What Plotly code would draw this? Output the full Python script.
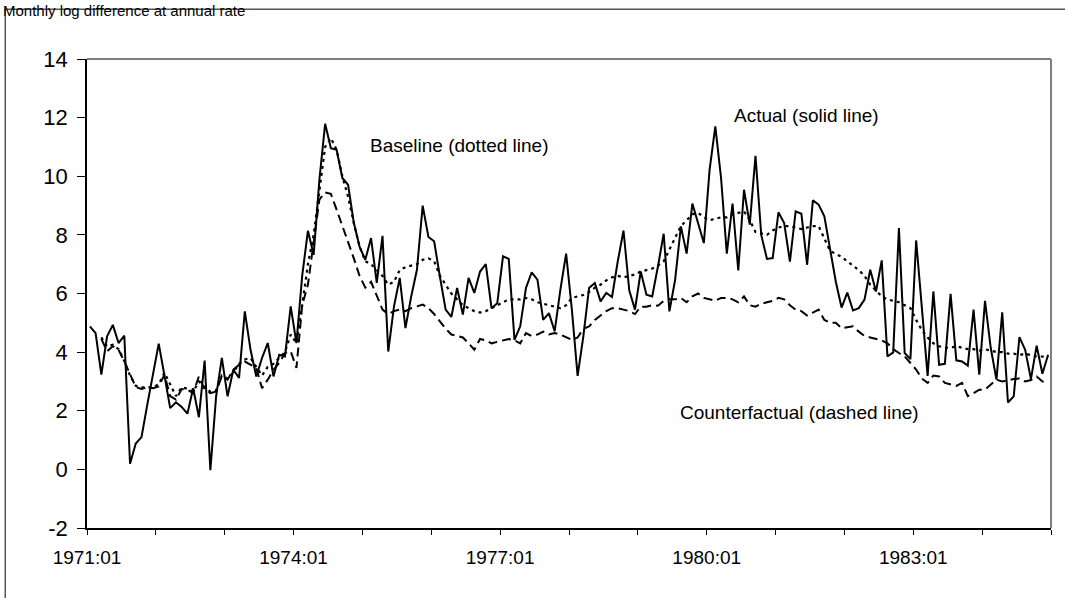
import plotly.graph_objects as go

# Monthly periods 1971:01 .. 1984:12
years = list(range(1971, 1985))
months = [f"{y}:{m:02d}" for y in years for m in range(1, 13)]

# Actual inflation (solid line)
actual = [
    4.88, 4.65, 3.23, 4.54, 4.93, 4.31, 4.56, 0.19, 0.88, 1.10, 2.20, 3.20,
    4.29, 3.20, 2.09, 2.29, 2.13, 1.90, 2.77, 1.78, 3.71, -0.03, 2.49, 3.80,
    2.49, 3.40, 3.12, 5.39, 4.08, 3.17, 3.80, 4.31, 3.17, 3.91, 3.85, 5.56,
    4.31, 6.60, 8.14, 7.32, 9.88, 11.79, 10.96, 10.90, 9.94, 9.71, 8.41, 7.60,
    7.15, 7.89, 6.36, 7.97, 4.02, 5.56, 6.53, 4.82, 5.90, 6.81, 9.00, 7.93,
    7.78, 6.58, 5.45, 5.20, 6.19, 5.28, 6.53, 6.02, 6.75, 7.00, 5.50, 5.67,
    7.27, 7.18, 4.42, 4.88, 6.19, 6.72, 6.47, 5.10, 5.33, 4.71, 6.13, 7.36,
    5.45, 3.19, 4.54, 6.19, 6.36, 5.73, 6.02, 5.88, 7.10, 8.15, 6.11, 5.45,
    6.75, 5.96, 5.90, 6.92, 8.04, 5.39, 6.47, 8.29, 7.36, 9.07, 8.40, 7.72,
    10.22, 11.70, 9.94, 7.36, 9.07, 6.79, 9.54, 8.35, 10.70, 8.00, 7.18, 7.21,
    8.77, 8.40, 7.09, 8.80, 8.72, 6.98, 9.18, 9.03, 8.63, 7.50, 6.40, 5.52,
    6.03, 5.42, 5.50, 5.79, 6.81, 6.07, 7.13, 3.85, 3.99, 8.23, 3.97, 3.76,
    7.81, 5.50, 3.19, 6.07, 3.57, 3.60, 5.99, 3.72, 3.68, 3.54, 5.45, 3.23,
    5.75, 4.14, 3.06, 5.36, 2.28, 2.49, 4.51, 4.08, 3.08, 4.22, 3.26, 3.91,
]

# Baseline simulation (dotted line)
baseline = [
    None, None, 4.50, 4.20, 4.25, 4.10, 3.70, 3.20, 2.85, 2.80, 2.80, 2.80,
    2.90, 3.30, 2.90, 2.50, 2.80, 2.75, 2.65, 3.00, 2.80, 2.65, 2.70, 3.20,
    3.10, 3.30, 3.60, 3.75, 3.80, 3.50, 3.20, 3.50, 3.60, 3.80, 4.00, 4.60,
    4.30, 5.60, 7.00, 8.00, 9.50, 11.00, 11.30, 10.90, 10.00, 9.30, 8.40, 7.60,
    7.10, 7.00, 6.80, 6.60, 6.30, 6.40, 6.80, 6.90, 6.95, 7.00, 7.15, 7.20,
    7.10, 6.60, 6.30, 6.00, 5.80, 5.60, 5.50, 5.40, 5.35, 5.40, 5.50, 5.60,
    5.70, 5.80, 5.80, 5.80, 5.85, 5.80, 5.70, 5.65, 5.60, 5.55, 5.50, 5.60,
    5.85, 5.90, 5.95, 6.05, 6.20, 6.30, 6.45, 6.55, 6.60, 6.55, 6.60, 6.65,
    6.75, 6.80, 6.85, 6.95, 7.10, 7.50, 7.90, 8.30, 8.50, 8.70, 8.75, 8.60,
    8.50, 8.55, 8.60, 8.60, 8.70, 8.75, 8.80, 8.50, 8.10, 8.05, 8.00, 8.15,
    8.25, 8.30, 8.30, 8.25, 8.20, 8.25, 8.30, 8.30, 7.90, 7.45, 7.35, 7.25,
    7.10, 6.95, 6.80, 6.60, 6.30, 6.10, 5.90, 5.80, 5.75, 5.70, 5.60, 5.50,
    5.10, 4.75, 4.50, 4.30, 4.20, 4.15, 4.15, 4.20, 4.15, 4.10, 4.10, 4.05,
    4.10, 4.05, 4.00, 4.00, 3.95, 3.95, 3.90, 3.95, 3.90, 3.85, 3.85, 3.80,
]

# Counterfactual simulation (dashed line)
counterfactual = [
    None, None, 4.45, 4.03, 4.20, 4.08, 3.68, 3.23, 2.81, 2.74, 2.81, 2.77,
    2.83, 3.23, 2.50, 2.38, 2.74, 2.72, 2.60, 3.17, 2.72, 2.60, 2.66, 3.17,
    3.06, 3.40, 3.57, 3.68, 3.57, 3.46, 2.77, 3.06, 3.40, 3.63, 3.97, 4.03,
    3.46, 5.60, 6.30, 7.80, 9.20, 9.45, 9.40, 8.86, 8.30, 7.80, 7.20, 6.60,
    6.20, 6.40, 5.90, 5.45, 5.30, 5.40, 5.45, 5.40, 5.50, 5.55, 5.62, 5.50,
    5.30, 5.05, 4.80, 4.60, 4.55, 4.50, 4.30, 4.08, 4.45, 4.40, 4.30, 4.35,
    4.40, 4.45, 4.40, 4.30, 4.65, 4.55, 4.60, 4.70, 4.60, 4.65, 4.60, 4.50,
    4.42, 4.50, 4.80, 4.88, 5.10, 5.25, 5.40, 5.50, 5.50, 5.45, 5.40, 5.30,
    5.55, 5.55, 5.60, 5.58, 5.75, 5.80, 5.80, 5.85, 5.70, 5.90, 6.00, 5.85,
    5.80, 5.75, 5.85, 5.85, 5.80, 5.70, 5.90, 5.60, 5.55, 5.65, 5.70, 5.75,
    5.85, 5.80, 5.60, 5.45, 5.40, 5.25, 5.35, 5.45, 5.10, 5.00, 5.00, 4.82,
    4.85, 4.88, 4.70, 4.55, 4.50, 4.45, 4.40, 4.30, 4.10, 3.97, 3.85, 3.63,
    3.40, 3.10, 2.95, 3.20, 3.17, 2.95, 2.90, 2.85, 2.95, 2.50, 2.60, 2.72,
    2.72, 2.90, 3.06, 3.00, 3.05, 3.08, 3.10, 3.00, 3.05, 3.17, 3.00, 2.95,
]

y_ticks = list(range(-2, 15, 2))
label_every = 36  # one label every three years, a tick every year

FONT = "Liberation Sans, Arial, Helvetica, sans-serif"
W, H = 1065, 598
L, R, T, B = 87.3, 14, 59.3, 70
pw, ph = W - L - R, H - T - B


def px(xp):
    return (xp - L) / pw


def py(yp):
    return (H - B - yp) / ph


n = len(months)
xpos = [i + 0.5 for i in range(n)]
tickvals = list(range(0, n + 1, 12))
ticktext = [months[v] if (v % label_every == 0 and v < n) else "" for v in tickvals]

fig = go.Figure()
fig.add_trace(go.Scatter(x=xpos, y=counterfactual, mode="lines",
                         line=dict(color="black", width=2, dash="9px,5px"),
                         connectgaps=False, hoverinfo="skip"))
fig.add_trace(go.Scatter(x=xpos, y=baseline, mode="lines",
                         line=dict(color="black", width=2.2, dash="3px,4px"),
                         connectgaps=False, hoverinfo="skip"))
fig.add_trace(go.Scatter(x=xpos, y=actual, mode="lines",
                         line=dict(color="black", width=2),
                         hoverinfo="skip"))

fig.update_layout(
    width=W, height=H,
    margin=dict(l=L, r=R, t=T, b=B, pad=0),
    paper_bgcolor="white", plot_bgcolor="white",
    showlegend=False,
    font=dict(family=FONT, color="black"),
    xaxis=dict(range=[0, n], tickmode="array", tickvals=tickvals, ticktext=ticktext,
               ticks="outside", ticklen=5, tickwidth=1.2, tickcolor="black",
               showline=True, linecolor="black", linewidth=1.5,
               showgrid=False, zeroline=False, tickangle=0,
               tickfont=dict(size=19), ticklabelstandoff=6),
    yaxis=dict(range=[-2, 14], tickmode="array", tickvals=y_ticks,
               ticktext=[str(v) for v in y_ticks],
               ticks="outside", ticklen=8, tickwidth=1.2, tickcolor="black",
               showline=True, linecolor="black", linewidth=1.5,
               showgrid=False, zeroline=False,
               tickfont=dict(size=22), ticklabelstandoff=5),
)

# Plot-area frame (top and right edges) and outer chart border
fig.add_shape(type="line", xref="paper", yref="paper", x0=0, x1=1, y0=1, y1=1,
              line=dict(color="#808080", width=2))
fig.add_shape(type="line", xref="paper", yref="paper", x0=1, x1=1, y0=0, y1=1,
              line=dict(color="#808080", width=2))
fig.add_shape(type="rect", xref="paper", yref="paper",
              x0=px(5.5), x1=px(W + 20), y0=py(H + 20), y1=py(9.5),
              line=dict(color="black", width=1), fillcolor="rgba(0,0,0,0)")

notes = [
    ("Monthly log difference at annual rate", 1, 0, "left", "top", 15),
    ("Baseline (dotted line)", 368, 146, "left", "middle", 19),
    ("Actual (solid line)", 732, 116, "left", "middle", 19),
    ("Counterfactual (dashed line)", 921, 413, "right", "middle", 19),
]
for text, x, y, xa, ya, size in notes:
    fig.add_annotation(text=text, xref="paper", yref="paper", x=px(x), y=py(y),
                       xanchor=xa, yanchor=ya, showarrow=False,
                       font=dict(size=size, color="black", family=FONT))

fig.write_html("out.html")
